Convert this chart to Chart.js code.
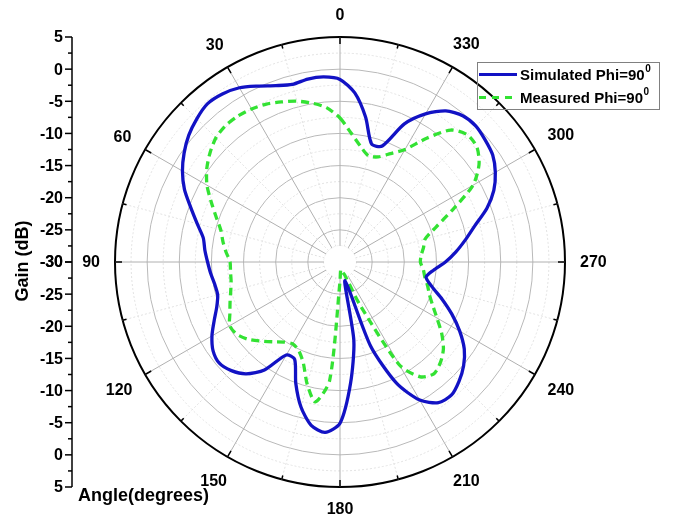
<!DOCTYPE html>
<html>
<head>
<meta charset="utf-8">
<script src="https://cdn.jsdelivr.net/npm/chart.js@4.4.1/dist/chart.umd.min.js"></script>
<style>
  html, body { margin: 0; padding: 0; background: #fff; }
  #wrap { width: 681px; height: 517px; position: relative; }
</style>
</head>
<body>
<div id="wrap"><canvas id="polar"></canvas></div>
<script>
// angles in degrees, counter-clockwise from the top (0 up, 90 left)
const angles = [
  0, 5, 10, 15, 20, 25, 30, 35, 40, 45, 50, 55,
  60, 65, 70, 75, 80, 85, 90, 95, 100, 105, 110, 115,
  120, 125, 130, 135, 140, 145, 150, 155, 160, 165, 170, 175,
  180, 185, 190, 195, 200, 205, 210, 215, 220, 225, 230, 235,
  240, 245, 250, 255, 260, 265, 270, 275, 280, 285, 290, 295,
  300, 305, 310, 315, 320, 325, 330, 335, 340, 345, 350, 355
];

// gain in dB
const simulated = [
  -1.6, -1.1, -1.1, -1.4, -0.8, 0.2, 1.3, 1.9, 2.1, 1.5, 0.7, -0.4,
  -1.7, -3.3, -5.3, -7.0, -8.4, -8.9, -9.4, -9.8, -10.2, -10.3, -9.6, -8.4,
  -7.0, -5.9, -5.5, -6.1, -7.3, -9.5, -13.3, -13.3, -9.9, -6.6, -4.2, -3.4,
  -4.9, -11.1, -17.6, -27.0, -16.1, -9.2, -5.2, -3.3, -3.0, -3.8, -4.9, -6.4,
  -8.5, -10.8, -13.1, -15.2, -16.4, -15.4, -13.6, -11.9, -10.2, -8.3, -5.7, -3.6,
  -2.1, -1.0, -0.5, -0.1, -0.3, -1.3, -3.4, -6.3, -10.8, -11.0, -7.1, -3.6
];

const measured = [
  -7.6, -5.9, -4.9, -4.1, -3.5, -2.9, -2.5, -2.3, -2.3, -2.7, -3.6, -4.7,
  -6.1, -7.9, -9.5, -10.8, -11.5, -12.2, -12.9, -12.9, -12.8, -12.4, -11.8, -11.1,
  -10.2, -10.4, -11.3, -12.6, -13.8, -14.8, -15.3, -14.8, -13.3, -10.3, -7.9, -11.5,
  -27.0, -28.8, -28.6, -28.3, -27.8, -22.5, -11.5, -8.2, -7.3, -7.9, -9.0, -10.7,
  -12.6, -14.1, -15.2, -15.9, -16.6, -17.0, -17.5, -17.3, -16.8, -16.3, -14.1, -10.6,
  -6.1, -3.6, -2.2, -2.0, -3.2, -6.5, -9.8, -11.4, -12.6, -12.9, -11.7, -9.9
];

const angleTicks = [0, 30, 60, 90, 120, 150, 180, 210, 240, 270, 300, 330];
const gainTicks = [5, 0, -5, -10, -15, -20, -25, -30];
const seriesNames = ['Simulated Phi=90', 'Measured Phi=90'];

// radar goes clockwise, the plot goes counter-clockwise: reverse the order
const order = angles.map((a, i) => (angles.length - i) % angles.length);
const labels = order.map(k => String(angles[k]));
const simData = order.map(k => simulated[k]);
const measData = order.map(k => measured[k]);

const BLUE = '#1212c4';
const GREEN = '#33e233';
const FONT = '"Liberation Sans", Arial, sans-serif';

function indexOfAngle(a) {
  return labels.indexOf(String(a));
}

const decor = {
  id: 'decor',
  beforeDatasetsDraw(chart) {
    const r = chart.scales.r;
    const ctx = chart.ctx;
    ctx.save();
    ctx.fillStyle = '#fff';
    ctx.beginPath();
    ctx.arc(r.xCenter, r.yCenter, 16, 0, Math.PI * 2);
    ctx.fill();
    ctx.restore();
  },
  afterDraw(chart) {
    const r = chart.scales.r;
    const ctx = chart.ctx;
    const R = r.drawingArea;
    ctx.save();

    // ticks on the outer ring
    ctx.strokeStyle = '#000';
    ctx.lineWidth = 1.5;
    for (let a = 0; a < 360; a += 15) {
      const i = indexOfAngle(a);
      const len = a % 30 === 0 ? 7 : 4;
      const p1 = r.getPointPosition(i, R);
      const p2 = r.getPointPosition(i, R - len);
      ctx.beginPath();
      ctx.moveTo(p1.x, p1.y);
      ctx.lineTo(p2.x, p2.y);
      ctx.stroke();
    }

    // angle labels
    ctx.fillStyle = '#000';
    ctx.font = 'bold 16px ' + FONT;
    ctx.textAlign = 'center';
    ctx.textBaseline = 'middle';
    angleTicks.forEach(a => {
      const i = indexOfAngle(a);
      const t = String(a);
      const w = ctx.measureText(t).width;
      const th = a * Math.PI / 180;
      const d = R + 15 + (w / 2) * Math.abs(Math.sin(th)) + 7 * Math.abs(Math.cos(th));
      const p = r.getPointPosition(i, d);
      ctx.fillText(t, p.x, p.y + 1);
    });

    // left gain axis, mirrored about the centre
    const ax = 72;
    const yTop = r.yCenter - r.getDistanceFromCenterForValue(5);
    const yBot = r.yCenter + r.getDistanceFromCenterForValue(5);
    ctx.lineWidth = 1.5;
    ctx.beginPath();
    ctx.moveTo(ax, yTop);
    ctx.lineTo(ax, yBot);
    ctx.stroke();
    ctx.font = 'bold 16px ' + FONT;
    ctx.textAlign = 'right';
    gainTicks.forEach(v => {
      const d = r.getDistanceFromCenterForValue(v);
      const dm = r.getDistanceFromCenterForValue(v - 2.5);
      [r.yCenter - d, r.yCenter + d].forEach(y => {
        ctx.beginPath();
        ctx.moveTo(ax - 7, y);
        ctx.lineTo(ax, y);
        ctx.stroke();
        ctx.fillText(String(v), ax - 9, y + 1);
      });
      if (v > -30) {
        [r.yCenter - dm, r.yCenter + dm].forEach(y => {
          ctx.beginPath();
          ctx.moveTo(ax - 4, y);
          ctx.lineTo(ax, y);
          ctx.stroke();
        });
      }
    });

    // axis titles
    ctx.font = 'bold 18px ' + FONT;
    ctx.textAlign = 'left';
    ctx.textBaseline = 'alphabetic';
    ctx.fillText('Angle(degrees)', 78, 501);
    ctx.save();
    ctx.translate(28, 261);
    ctx.rotate(-Math.PI / 2);
    ctx.textAlign = 'center';
    ctx.fillText('Gain (dB)', 0, 0);
    ctx.restore();

    // legend
    ctx.strokeStyle = '#808080';
    ctx.lineWidth = 1;
    ctx.strokeRect(477.5, 62.5, 182, 47);
    const rows = [
      { y: 74.5, color: BLUE, dash: [] },
      { y: 97.5, color: GREEN, dash: [7, 6] }
    ];
    rows.forEach((row, k) => {
      ctx.strokeStyle = row.color;
      ctx.lineWidth = 3;
      ctx.setLineDash(row.dash);
      ctx.beginPath();
      ctx.moveTo(479, row.y);
      ctx.lineTo(517, row.y);
      ctx.stroke();
      ctx.setLineDash([]);
      ctx.fillStyle = '#000';
      ctx.font = 'bold 15px ' + FONT;
      ctx.textAlign = 'left';
      ctx.textBaseline = 'middle';
      ctx.fillText(seriesNames[k], 520, row.y + 1);
      const w = ctx.measureText(seriesNames[k]).width;
      ctx.font = 'bold 10px ' + FONT;
      ctx.fillText('0', 520 + w + 0.5, row.y - 5);
    });

    ctx.restore();
  }
};

new Chart(document.getElementById('polar'), {
  type: 'radar',
  data: {
    labels: labels,
    datasets: [
      {
        label: seriesNames[0],
        data: simData,
        borderColor: BLUE,
        borderWidth: 3.3,
        pointRadius: 0,
        fill: false,
        tension: 0.25
      },
      {
        label: seriesNames[1],
        data: measData,
        borderColor: GREEN,
        borderWidth: 3.3,
        borderDash: [8, 5],
        pointRadius: 0,
        fill: false,
        tension: 0.25
      }
    ]
  },
  options: {
    responsive: true,
    maintainAspectRatio: false,
    animation: false,
    layout: { padding: { left: 115, right: 116, top: 37, bottom: 30 } },
    plugins: {
      legend: { display: false },
      tooltip: { enabled: false }
    },
    scales: {
      r: {
        min: -30,
        max: 5,
        beginAtZero: false,
        ticks: { display: false, stepSize: 2.5 },
        pointLabels: { display: false },
        grid: {
          circular: true,
          color: (c) => {
            const v = c.tick.value;
            if (v === 5) return '#000';
            return v % 5 === 0 ? '#b9b9b9' : '#e2e2e2';
          },
          lineWidth: (c) => c.tick.value === 5 ? 2 : 1
        },
        border: {
          dash: (c) => c.tick.value % 5 === 0 ? [] : [2, 2]
        },
        angleLines: {
          display: true,
          color: (c) => Number(c.label) % 30 === 0 ? '#b0b0b0' : '#e2e2e2',
          lineWidth: (c) => Number(c.label) % 15 === 0 ? 1 : 0,
          borderDash: (c) => Number(c.label) % 30 === 0 ? [] : [2, 2]
        }
      }
    }
  },
  plugins: [decor]
});
</script>
</body>
</html>
